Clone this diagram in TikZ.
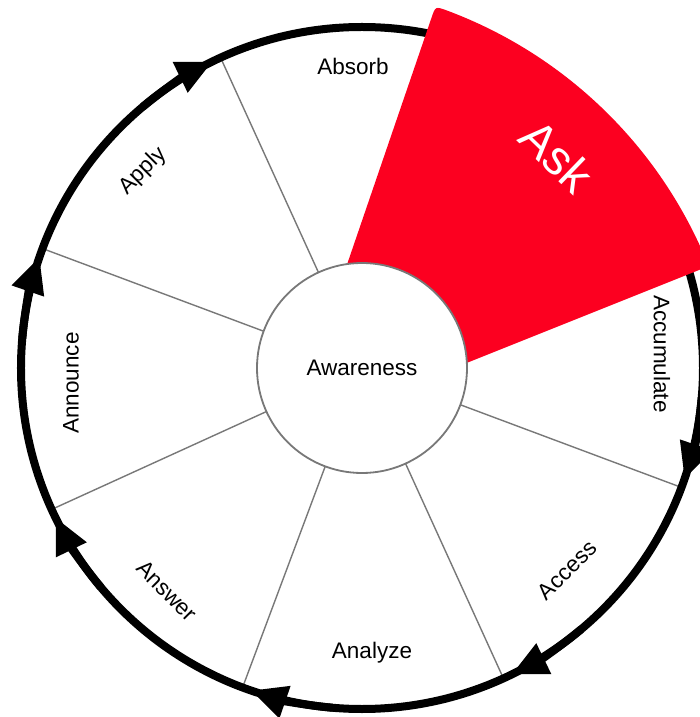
\documentclass[tikz,border=0pt]{standalone}
\usepackage{fontspec}
\setmainfont{Liberation Sans}
\usetikzlibrary{arrows.meta,calc}
\definecolor{askred}{RGB}{252,0,32}
\definecolor{spokegray}{RGB}{120,120,120}
\begin{document}
\begin{tikzpicture}[x=1pt,y=1pt,
  spoke/.style={draw=spokegray, line width=1.4pt},
  ring/.style={draw=black, line width=8pt},
  ringarrow/.style={draw=black, line width=8pt, -{Triangle[length=36pt 0,width=32pt 0]}},
  lab/.style={font=\fontsize{22.5}{27}\selectfont, text=black, inner sep=0pt},
  hub/.style={circle, draw=spokegray, line width=1.8pt, fill=white, minimum size=210pt, inner sep=0pt, font=\fontsize{22.5}{27}\selectfont},
]
\useasboundingbox (-362,-349) rectangle (338,368);
\clip (-362,-349) rectangle (338,368);
\fill[white] (-362,-349) rectangle (338,368);
\coordinate (c) at (0,0);
% spokes
\foreach \a in {114.5,159.5,204.5,249.5,294.5,339.5}
  \draw[spoke] (\a:105) -- (\a:341);
% ring and arrowheads
\draw[ring] (c) circle[radius=341];
\foreach \a in {116,161,206,251,296,341}
  \draw[ringarrow] (\a+14:341) arc[start angle=\a+14, end angle=\a, radius=341];
% highlighted sector
\coordinate (apex) at (-73,-66);
\coordinate (k0) at ($(apex)+(71.1:452)$);
\coordinate (k1) at ($(apex)+(71.1:440)$);
\fill[askred] (apex) -- ($(apex)+(21.8:452)$) arc[start angle=21.8, end angle=69.6, radius=452] .. controls (k0) .. (k1) -- cycle;
% hub
\node[hub] (aw) at (c) {Awareness};
% labels
\node[lab] (absorb) at (-9,302) {Absorb};
\node[lab, rotate=45] (apply) at (-219,197) {Apply};
\node[lab, rotate=90] (announce) at (-291,-15) {Announce};
\node[lab, rotate=-45] (answer) at (-195,-223) {Answer};
\node[lab] (analyze) at (10,-285) {Analyze};
\node[lab, rotate=45] (access) at (205,-202) {Access};
\node[lab, rotate=-90] (accum) at (300,14) {Accumulate};
\node[lab, text=white, font=\fontsize{48}{56}\selectfont, rotate=-44] (ask) at (195,212) {Ask};
\end{tikzpicture}
\end{document}
